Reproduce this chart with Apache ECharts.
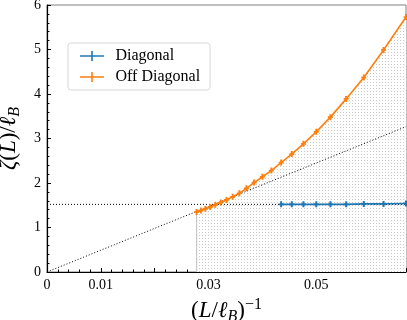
<!DOCTYPE html>
<html>
<head>
<meta charset="utf-8">
<script src="https://cdn.jsdelivr.net/npm/echarts@6/dist/echarts.min.js"></script>
<style>
  html, body { margin: 0; padding: 0; background: #fff; }
  #chart { width: 407px; height: 320px; }
</style>
</head>
<body>
<div id="chart"></div>
<script>
// system sizes L, x axis shows 1/L
const offL = [36, 35, 34, 33, 32, 31, 30, 29, 28, 27, 26, 25, 24, 23, 22, 21, 20, 19, 18, 17, 16, 15]
const offZeta = [1.35, 1.38, 1.42, 1.46, 1.51, 1.56, 1.62, 1.69, 1.77, 1.88, 2.01, 2.14, 2.28, 2.46, 2.65, 2.88, 3.15, 3.48, 3.89, 4.37, 4.99, 5.73]
const diagL = [23, 22, 21, 20, 19, 18, 17, 16, 15]
const diagZeta = [1.52, 1.52, 1.52, 1.52, 1.52, 1.52, 1.53, 1.53, 1.54]
const plateau = 1.52
const slope = 49
const xTickLabels = ["0", "0.01", "0.03", "0.05"]

const xMax = 1 / 15
const offData = offL.map((L, i) => [1 / L, offZeta[i]])
const diagData = diagL.map((L, i) => [1 / L, diagZeta[i]])

// dotted hatch pattern for the shaded region
function makePattern() {
  const c = document.createElement("canvas")
  c.width = 3
  c.height = 3
  const ctx = c.getContext("2d")
  ctx.fillStyle = "#fff"
  ctx.fillRect(0, 0, 3, 3)
  ctx.fillStyle = "#c8c8c8"
  ctx.fillRect(1, 1, 1, 1)
  return c
}

const errSymbol = "path://M2.2,0h1.6v7h-1.6z M1,2.5h4v2h-4z"
const legendIcon = "path://M0,4.2h24v1.6h-24z M11.2,0h1.6v10h-1.6z"

const serif = "Liberation Serif"
const rich = {
  a: { fontFamily: serif, fontSize: 23, lineHeight: 28, color: "#000" },
  i: { fontFamily: serif, fontSize: 23, lineHeight: 28, fontStyle: "italic", color: "#000" },
  s: { fontFamily: serif, fontSize: 16, lineHeight: 16, fontStyle: "italic", verticalAlign: "bottom", color: "#000" },
  p: { fontFamily: serif, fontSize: 16, lineHeight: 16, verticalAlign: "top", color: "#000" },
}

const chart = echarts.init(document.getElementById("chart"))

chart.setOption({
  animation: false,
  grid: {
    left: 47, right: 1, top: 5, bottom: 48,
    outerBoundsMode: "none", containLabel: false,
    show: true, borderColor: "#808080", borderWidth: 1,
  },
  legend: {
    left: 68, top: 43,
    orient: "vertical",
    data: [
      { name: "Diagonal", icon: legendIcon },
      { name: "Off Diagonal", icon: legendIcon },
    ],
    itemWidth: 25, itemHeight: 10, itemGap: 5,
    padding: [5, 10, 5, 12],
    borderColor: "#d8d8d8", borderWidth: 1, borderRadius: 3,
    backgroundColor: "rgba(255,255,255,0.85)",
    textStyle: { fontFamily: serif, fontSize: 16, color: "#000", padding: [0, 0, 0, 6] },
  },
  xAxis: {
    type: "value",
    min: 0, max: xMax, interval: 0.01,
    name: "{a|(}{i|L}{a|/}{i|ℓ}{s|B}{a|)}{p|−1}",
    nameLocation: "middle", nameGap: 13,
    nameTextStyle: { rich, padding: [0, 0, 10, 0] },
    axisLine: { lineStyle: { color: "#000", width: 1.2 } },
    axisTick: { inside: true, length: 4, lineStyle: { color: "#000" } },
    minorTick: { show: true, splitNumber: 5, length: 2.5, lineStyle: { color: "#000" } },
    splitLine: { show: false },
    axisLabel: {
      fontFamily: serif, fontSize: 14, color: "#000", margin: 6, showMaxLabel: false,
      formatter: v => {
        const s = String(Math.round(v * 100) / 100)
        return xTickLabels.includes(s) ? s : ""
      },
    },
  },
  yAxis: {
    type: "value",
    min: 0, max: 6, interval: 1,
    name: "{i|ζ}{a|(}{i|L}{a|)/}{i|ℓ}{s|B}",
    nameLocation: "middle", nameGap: 20, nameRotate: 90,
    nameTextStyle: { rich },
    axisLine: { show: true, lineStyle: { color: "#000", width: 1.2 } },
    axisTick: { inside: true, length: 4, lineStyle: { color: "#000" } },
    minorTick: { show: true, splitNumber: 5, length: 2.5, lineStyle: { color: "#000" } },
    splitLine: { show: false },
    axisLabel: { fontFamily: serif, fontSize: 14, color: "#000", margin: 6 },
  },
  series: [
    {
      name: "shade",
      type: "line",
      data: offData,
      symbol: "none",
      lineStyle: { width: 0 },
      areaStyle: { color: { image: makePattern(), repeat: "repeat" }, opacity: 1 },
      silent: true,
      z: 1,
    },
    {
      name: "edge",
      type: "line",
      data: [[offData[0][0], 0], offData[0]],
      symbol: "none",
      lineStyle: { color: "#c8c8c8", width: 1.2 },
      silent: true,
      z: 2,
    },
    {
      name: "slopeLine",
      type: "line",
      data: [[0, 0], [xMax, slope * xMax]],
      symbol: "none",
      lineStyle: { color: "#000", width: 1, type: [1, 2] },
      silent: true,
      z: 3,
    },
    {
      name: "plateauLine",
      type: "line",
      data: [[0, plateau], [xMax, plateau]],
      symbol: "none",
      lineStyle: { color: "#000", width: 1, type: [1, 2] },
      silent: true,
      z: 3,
    },
    {
      name: "Diagonal",
      type: "line",
      data: diagData,
      color: "#1f77b4",
      symbol: errSymbol,
      symbolSize: [5, 6],
      lineStyle: { width: 1.6 },
      z: 5,
    },
    {
      name: "Off Diagonal",
      type: "line",
      data: offData,
      color: "#ff7f0e",
      symbol: errSymbol,
      symbolSize: [5, 6],
      lineStyle: { width: 1.6 },
      z: 6,
    },
  ],
})
</script>
</body>
</html>
